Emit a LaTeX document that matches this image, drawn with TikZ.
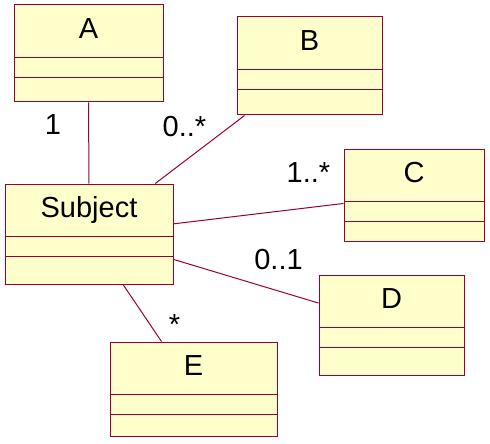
\documentclass[tikz,border=0pt]{standalone}
\usepackage{fontspec}
\setmainfont{Liberation Sans}
\definecolor{umlline}{HTML}{990033}
\definecolor{umlfill}{HTML}{FFFFCC}
\tikzset{
  classbox/.style={draw=umlline, fill=umlfill, line width=0.5pt, inner sep=0pt},
  classname/.style={anchor=north, inner sep=0pt, minimum height=26.5pt,
    text height=0.716em, text depth=0pt, font=\fontsize{14.5}{17}\selectfont},
  mult/.style={inner sep=0pt, text height=0.716em, text depth=0pt,
    font=\fontsize{14.5}{17}\selectfont},
  assoc/.style={draw=umlline, line width=0.5pt}
}
\begin{document}
\begin{tikzpicture}[x=0.5pt,y=-0.5pt]
  \useasboundingbox (0,0) rectangle (490,443);
  % classes: name / x / y / width / height (pixels)
  \foreach \n/\x/\y/\w/\h in {A/88.5/53.5/149/97, B/309.5/66/145/98,
      C/414/195/140/92, D/391.5/325/145/100, E/193.5/389/167/94,
      Subject/89/234/168/100} {
    \node[classbox, minimum width=\w*0.5pt, minimum height=\h*0.5pt] (\n) at (\x,\y) {};
    \node[classname] (\n-name) at (\n.north) {\n};
    \draw[assoc] ([yshift=-26.5pt]\n.north west) -- ([yshift=-26.5pt]\n.north east);
    \draw[assoc] ([yshift=-36.5pt]\n.north west) -- ([yshift=-36.5pt]\n.north east);
  }

  \draw[assoc] (Subject) -- (A);
  \draw[assoc] (Subject) -- (B);
  \draw[assoc] (Subject) -- (C);
  \draw[assoc] (Subject) -- (D);
  \draw[assoc] (Subject) -- (E);

  \node[mult] (mA) at (53,127) {1};
  \node[mult] (mB) at (184.5,129.5) {0..*};
  \node[mult] (mC) at (308.5,175.5) {1..*};
  \node[mult] (mD) at (278.5,262) {0..1};
  \node[mult] (mE) at (174.5,327.5) {*};
\end{tikzpicture}
\end{document}
